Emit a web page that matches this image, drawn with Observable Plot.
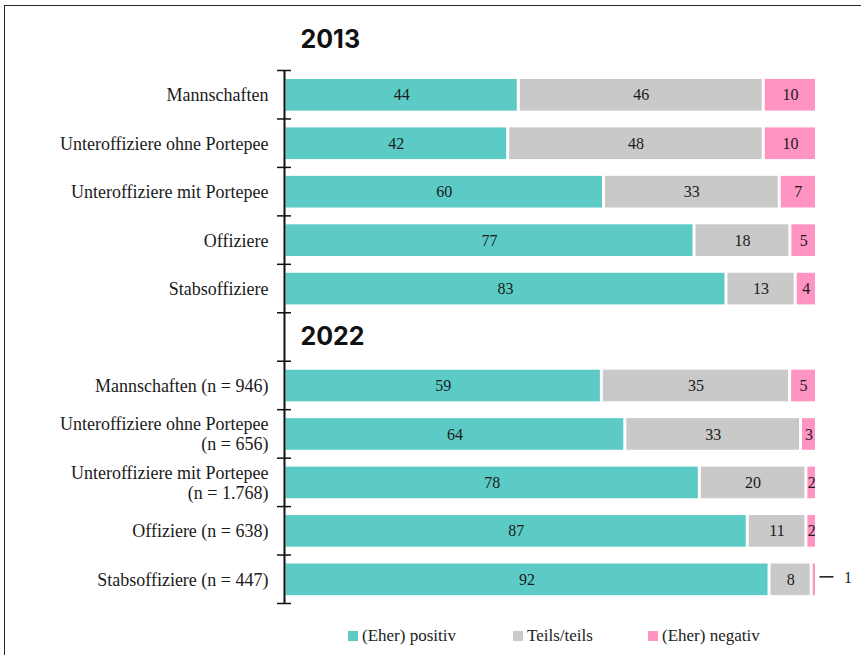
<!DOCTYPE html>
<html>
<head>
<meta charset="utf-8">
<script src="https://cdn.jsdelivr.net/npm/d3@7"></script>
<script src="https://cdn.jsdelivr.net/npm/@observablehq/plot@0.6"></script>
<style>
  html, body { margin: 0; padding: 0; background: #fff; }
  body { width: 861px; height: 655px; overflow: hidden; position: relative; }
  #frame { position: absolute; left: 4px; top: 5px; width: 920px; height: 720px; border: 1.5px solid #262626; box-sizing: border-box; }
  #chart { position: absolute; left: 0; top: 0; }
  #legend { position: absolute; left: 0; top: 626px; width: 861px; height: 24px; font-family: "Liberation Serif", serif; font-size: 17px; color: #222; }
  #legend .item { position: absolute; top: 0; display: flex; align-items: center; white-space: nowrap; }
  #legend .sw { width: 10px; height: 10px; margin-right: 4px; display: inline-block; }
</style>
</head>
<body>
<div id="frame"></div>
<div id="chart"></div>
<div id="legend"></div>
<script>
// ---- data ----
const groupTitles = ["2013", "2022"];
const labels2013 = ["Mannschaften", "Unteroffiziere ohne Portepee", "Unteroffiziere mit Portepee", "Offiziere", "Stabsoffiziere"];
const labels2022 = ["Mannschaften (n = 946)", "Unteroffiziere ohne Portepee\n(n = 656)", "Unteroffiziere mit Portepee\n(n = 1.768)", "Offiziere (n = 638)", "Stabsoffiziere (n = 447)"];
const positiv2013 = [44, 42, 60, 77, 83];
const teils2013   = [46, 48, 33, 18, 13];
const negativ2013 = [10, 10, 7, 5, 4];
const positiv2022 = [59, 64, 78, 87, 92];
const teils2022   = [35, 33, 20, 11, 8];
const negativ2022 = [5, 3, 2, 2, 1];
const seriesNames = ["(Eher) positiv", "Teils/teils", "(Eher) negativ"];
const seriesColors = ["#5ccbc6", "#c9c9c9", "#ff94c2"];

// ---- build table ----
const rows = [];
labels2013.forEach((l, i) => rows.push({label: l, values: [positiv2013[i], teils2013[i], negativ2013[i]]}));
rows.push(null); // gap row holding the 2022 title
labels2022.forEach((l, i) => rows.push({label: l, values: [positiv2022[i], teils2022[i], negativ2022[i]]}));

const segs = [];
const rowLabels = [];
rows.forEach((r, row) => {
  if (!r) return;
  rowLabels.push({row, label: r.label});
  const total = d3.sum(r.values);
  let cum = 0;
  r.values.forEach((v, k) => {
    const s = cum / total, e = (cum + v) / total;
    segs.push({row, series: seriesNames[k], value: v, x1: s, x2: e, mid: (s + e) / 2, small: v / total < 0.015});
    cum += v;
  });
});
const titleTop = [{row: -1, label: groupTitles[0]}];
const titleMid = [{row: 5, label: groupTitles[1]}];
const boundaries = d3.range(0, rows.length + 1);

const serif = "Liberation Serif";
const titleStyle = {x: 0, y: d => d.row + 0.5, dx: 16, text: "label", textAnchor: "start", fontSize: 25, fontWeight: 700, fontFamily: "Inter", fill: "#111"};
const plot = Plot.plot({
  width: 861,
  height: 620,
  marginLeft: 284,
  marginRight: 44.5,
  marginTop: 70,
  marginBottom: 17,
  x: {domain: [0, 1], axis: null},
  y: {domain: [0, rows.length], reverse: true, axis: null},
  color: {domain: seriesNames, range: seriesColors},
  style: {fontFamily: serif, color: "#222"},
  marks: [
    Plot.rect(segs, {x1: "x1", x2: "x2", y1: d => d.row + 0.185, y2: d => d.row + 0.838, fill: "series", insetLeft: 1.5, insetRight: 1.5}),
    Plot.text(segs.filter(d => !d.small), {x: "mid", y: d => d.row + 0.51, text: d => String(d.value), fontSize: 16, fill: "#1a1a1a", fontFamily: serif}),
    Plot.ruleY(segs.filter(d => d.small), {y: d => d.row + 0.45, x1: "x2", x2: "x2", insetLeft: 3, insetRight: -17, stroke: "#111", strokeWidth: 1.5}),
    Plot.text(segs.filter(d => d.small), {x: "x2", y: d => d.row + 0.48, dx: 31, text: d => String(d.value), fontSize: 16, fill: "#1a1a1a", fontFamily: serif}),
    Plot.ruleX([0], {y1: 0, y2: rows.length, stroke: "#111", strokeWidth: 2}),
    Plot.ruleY(boundaries, {y: d => d, x1: 0, x2: 0, insetLeft: -7, insetRight: -7, stroke: "#111", strokeWidth: 1.5}),
    Plot.text(rowLabels, {x: 0, y: d => d.row + 0.5, text: "label", dx: -16, textAnchor: "end", lineAnchor: "middle", lineHeight: 1.12, fontSize: 18, fill: "#1a1a1a", fontFamily: serif}),
    Plot.text(titleTop, {...titleStyle, dy: -6}),
    Plot.text(titleMid, titleStyle)
  ]
});
document.getElementById("chart").appendChild(plot);

// ---- legend ----
const legendX = [348, 513, 648];
const legend = document.getElementById("legend");
seriesNames.forEach((n, k) => {
  const item = document.createElement("div");
  item.className = "item";
  item.style.left = legendX[k] + "px";
  const sw = document.createElement("span");
  sw.className = "sw";
  sw.style.background = seriesColors[k];
  const t = document.createElement("span");
  t.textContent = n;
  item.appendChild(sw);
  item.appendChild(t);
  legend.appendChild(item);
});
</script>
</body>
</html>
